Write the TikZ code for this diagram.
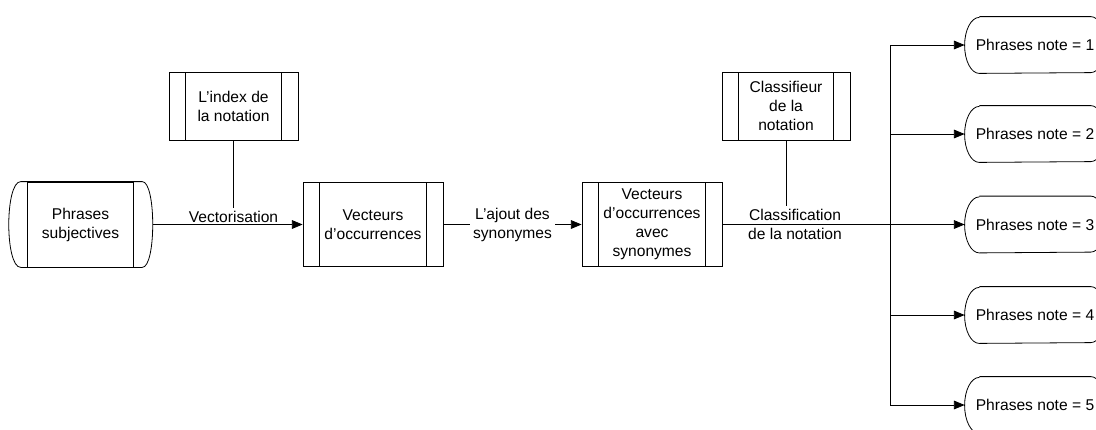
\documentclass[tikz,border=0pt]{standalone}
\usepackage{fontspec}
\setmainfont{Liberation Sans}
\usetikzlibrary{arrows.meta}

\begin{document}
\begin{tikzpicture}[x=0.75pt,y=-0.75pt, line width=0.6pt,
    every node/.style={font=\fontsize{11.7}{14.3}\selectfont, align=center},
    procbox/.style={draw, inner sep=1pt,
        path picture={
            \draw ([xshift=12.5pt]path picture bounding box.north west) -- ([xshift=12.5pt]path picture bounding box.south west);
            \draw ([xshift=-12.5pt]path picture bounding box.north east) -- ([xshift=-12.5pt]path picture bounding box.south east);
        }},
    notebox/.style={minimum width=105pt, minimum height=42pt, inner sep=1pt},
    flow/.style={-{Triangle[length=8pt,width=6.5pt]}}]

    \useasboundingbox (0,0) rectangle (1096,429);

    % source
    \node[draw, minimum width=79pt, minimum height=63.75pt] (src) at (80.5,224.5) {Phrases\\subjectives};
    \draw ([xshift=-5pt]src.north west) -- ([xshift=6.5pt]src.north east)
        .. controls ([xshift=17pt]src.north east) and ([xshift=17pt]src.south east) .. ([xshift=6.5pt]src.south east)
        -- ([xshift=-5pt]src.south west)
        .. controls ([xshift=-17pt]src.south west) and ([xshift=-17pt]src.north west) .. cycle;
    \coordinate (srcout) at ([xshift=14.4pt]src.east);

    % processes
    \node[procbox, minimum width=96.75pt, minimum height=51pt] (idx) at (233.5,106) {L'index de\\la notation};
    \node[procbox, minimum width=105pt, minimum height=63pt] (vecA) at (373,224.5) {Vecteurs\\d'occurrences};
    \node[procbox, minimum width=105pt, minimum height=63pt] (vecB) at (652,224.5) {Vecteurs\\d'occurrences\\avec\\synonymes};
    \node[procbox, minimum width=96pt, minimum height=51pt] (cls) at (786,106) {Classifieur\\de la\\notation};

    % results
    \foreach \i/\y in {1/45,2/134,3/224.5,4/315,5/405} {
        \node[notebox] (note\i) at (1035,\y) {Phrases note = \i};
        \draw ([xshift=11pt]note\i.north west) -- ([xshift=-11pt]note\i.north east)
            arc[start angle=90, end angle=-90, x radius=11pt, y radius=21pt]
            -- ([xshift=11pt]note\i.south west)
            arc[start angle=270, end angle=90, x radius=11pt, y radius=21pt];
    }

    % connectors
    \node[inner sep=2pt] (vlab) at (233.5,216.5) {Vectorisation};
    \draw[flow] (srcout) -- (vecA);
    \draw (idx) -- (vlab);
    \draw[flow] (vecA) -- node[fill=white, inner sep=2pt] (alab) {L'ajout des\\synonymes} (vecB);
    \node[inner sep=2pt] (clab) at (795,224.5) {Classification\\de la notation};
    \draw (cls) -- (cls |- clab.north);
    \coordinate (bus) at (890,224.5);
    \draw (vecB) -- (bus);
    \foreach \i in {1,...,5}
        \draw[flow] (bus) |- (note\i);
\end{tikzpicture}
\end{document}
